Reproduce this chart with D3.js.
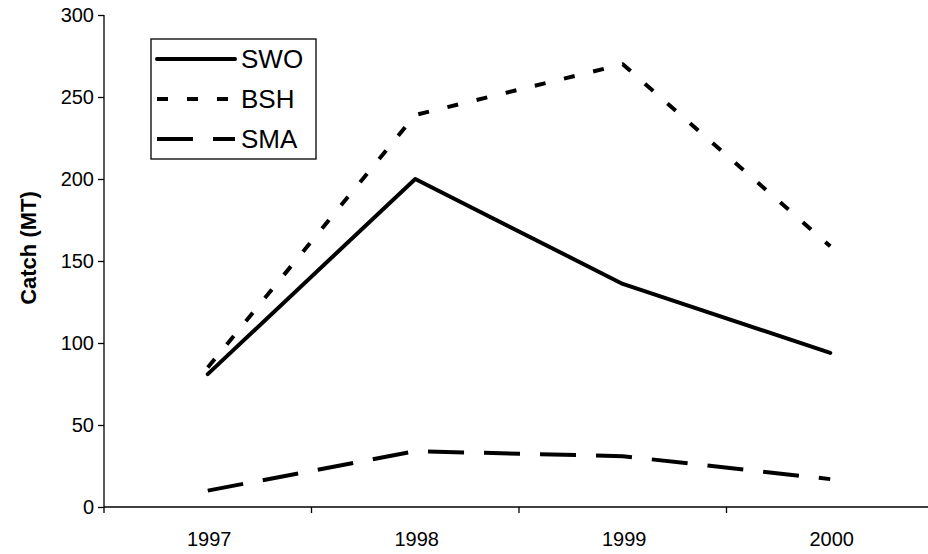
<!DOCTYPE html>
<html>
<head>
<meta charset="utf-8">
<script src="https://cdn.jsdelivr.net/npm/d3@7"></script>
<style>
  body { margin: 0; background: #fff; }
  svg { display: block; font-family: "Liberation Sans", Arial, sans-serif; }
</style>
</head>
<body>
<div id="chart"></div>
<script>
var years = ["1997", "1998", "1999", "2000"];
var swo = [81, 200, 136, 94];
var bsh = [85, 239, 270, 159];
var sma = [10, 34, 31, 17];
var yTicks = [0, 50, 100, 150, 200, 250, 300];

var series = [
    { name: "SWO", values: swo, dash: null, cap: "round" },
    { name: "BSH", values: bsh, dash: "11,19", cap: "butt" },
    { name: "SMA", values: sma, dash: "36,20", cap: "butt" }
];

var width = 928, height = 554;
var svg = d3.select("#chart").append("svg")
    .attr("width", width)
    .attr("height", height);

// plot area (axis runs off the right edge as in the original)
var x = d3.scaleBand().domain(years).range([104, 934]).padding(0);
var y = d3.scaleLinear().domain([0, 300]).range([507, 15]);

var yAxis = svg.append("g")
    .attr("transform", "translate(104,0)")
    .call(d3.axisLeft(y).tickValues(yTicks).tickSize(6).tickPadding(4).tickSizeOuter(0));
yAxis.select(".domain").attr("d", "M0,15V513").attr("stroke-width", 1.3);
yAxis.selectAll("text").attr("font-size", 20).attr("fill", "#000");

var xAxis = svg.append("g")
    .attr("transform", "translate(1.5,507)")
    .call(d3.axisBottom(x).tickSize(0).tickPadding(25));
xAxis.select(".domain").remove();
xAxis.selectAll("text").attr("font-size", 20).attr("fill", "#000");
svg.append("line")
    .attr("x1", 104).attr("x2", 934)
    .attr("y1", 507).attr("y2", 507)
    .attr("stroke", "#000").attr("stroke-width", 1.3);
// category boundary ticks
svg.selectAll(".xtick")
    .data(years.slice(1))
    .enter().append("line")
    .attr("class", "xtick")
    .attr("x1", function (d) { return x(d); })
    .attr("x2", function (d) { return x(d); })
    .attr("y1", 507).attr("y2", 513)
    .attr("stroke", "#000").attr("stroke-width", 1.3);
svg.selectAll(".tick line").attr("stroke-width", 1.3);

svg.append("text")
    .attr("transform", "translate(36,248) rotate(-90)")
    .attr("text-anchor", "middle")
    .attr("font-size", 22)
    .attr("font-weight", "bold")
    .text("Catch (MT)");

var line = d3.line()
    .x(function (d, i) { return x(years[i]) + x.bandwidth() / 2; })
    .y(function (d) { return y(d); });

series.forEach(function (s) {
    svg.append("path")
        .datum(s.values)
        .attr("d", line)
        .attr("fill", "none")
        .attr("stroke", "#000")
        .attr("stroke-width", 4)
        .attr("stroke-linecap", s.cap)
        .attr("stroke-linejoin", "round")
        .attr("stroke-dasharray", s.dash);
});

// legend
var legend = svg.append("g");
legend.append("rect")
    .attr("x", 151).attr("y", 39)
    .attr("width", 165).attr("height", 120)
    .attr("fill", "#fff")
    .attr("stroke", "#000")
    .attr("stroke-width", 1.3);
series.forEach(function (s, i) {
    var ly = 59 + i * 40;
    legend.append("line")
        .attr("x1", 157).attr("x2", 235)
        .attr("y1", ly).attr("y2", ly)
        .attr("stroke", "#000")
        .attr("stroke-width", 4)
        .attr("stroke-linecap", s.cap)
        .attr("stroke-dasharray", s.dash);
    legend.append("text")
        .attr("x", 241).attr("y", ly + 9)
        .attr("font-size", 26)
        .text(s.name);
});
</script>
</body>
</html>
